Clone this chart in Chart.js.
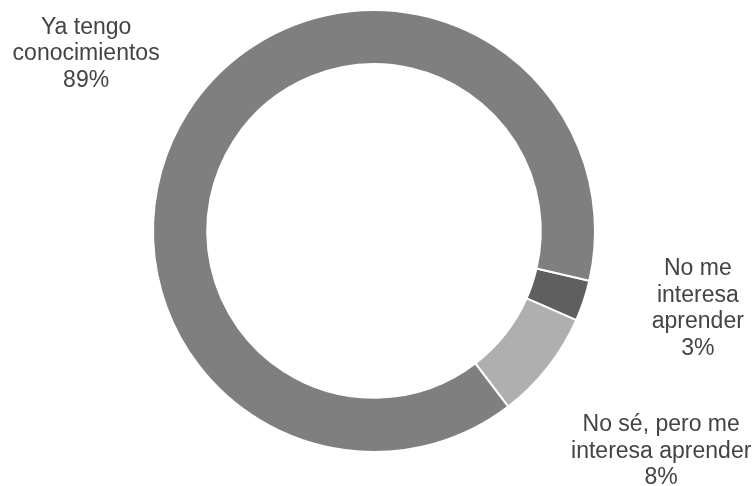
<!DOCTYPE html>
<html>
<head>
<meta charset="utf-8">
<script src="https://cdn.jsdelivr.net/npm/chart.js@4"></script>
<style>
    html, body { margin: 0; padding: 0; background: #fff; }
    #wrap { width: 755px; height: 486px; }
</style>
</head>
<body>
<div id="wrap"><canvas id="knowledgeChart"></canvas></div>
<script>
    const categories = ['No me\ninteresa\naprender', 'No sé, pero me\ninteresa aprender', 'Ya tengo\nconocimientos'];
    const percentages = [3, 8, 89];
    const sliceColors = ['#5f5f5f', '#afafaf', '#7f7f7f'];

    // label placement around each slice: distance from centre and small angle nudge (deg)
    const labelRadius = [333, 362, 338];
    const labelNudge = [-4.9, -0.7, -1.2];

    const sliceLabels = {
        id: 'sliceLabels',
        afterDatasetsDraw(chart) {
            const ctx = chart.ctx;
            const meta = chart.getDatasetMeta(0);
            ctx.save();
            ctx.font = '23px "Liberation Sans", Arial, sans-serif';
            ctx.fillStyle = '#434343';
            ctx.textAlign = 'center';
            ctx.textBaseline = 'middle';
            const lineHeight = 26.5;
            meta.data.forEach((arc, i) => {
                const mid = (arc.startAngle + arc.endAngle) / 2 + labelNudge[i] * Math.PI / 180;
                const cx = arc.x + Math.cos(mid) * labelRadius[i];
                const cy = arc.y + Math.sin(mid) * labelRadius[i];
                const lines = categories[i].split('\n').concat([percentages[i] + '%']);
                const top = cy - (lines.length - 1) * lineHeight / 2;
                lines.forEach((line, j) => ctx.fillText(line, cx, top + j * lineHeight));
            });
            ctx.restore();
        }
    };

    new Chart(document.getElementById('knowledgeChart'), {
        type: 'doughnut',
        data: {
            labels: categories,
            datasets: [{
                data: percentages,
                backgroundColor: sliceColors,
                borderColor: '#ffffff',
                borderWidth: 2,
                radius: 221,
                cutout: 166,
                rotation: 103
            }]
        },
        options: {
            responsive: true,
            maintainAspectRatio: false,
            animation: false,
            layout: {
                padding: { left: 153, right: 160, top: 10, bottom: 34 }
            },
            plugins: {
                legend: { display: false },
                tooltip: { enabled: false }
            }
        },
        plugins: [sliceLabels]
    });
</script>
</body>
</html>
